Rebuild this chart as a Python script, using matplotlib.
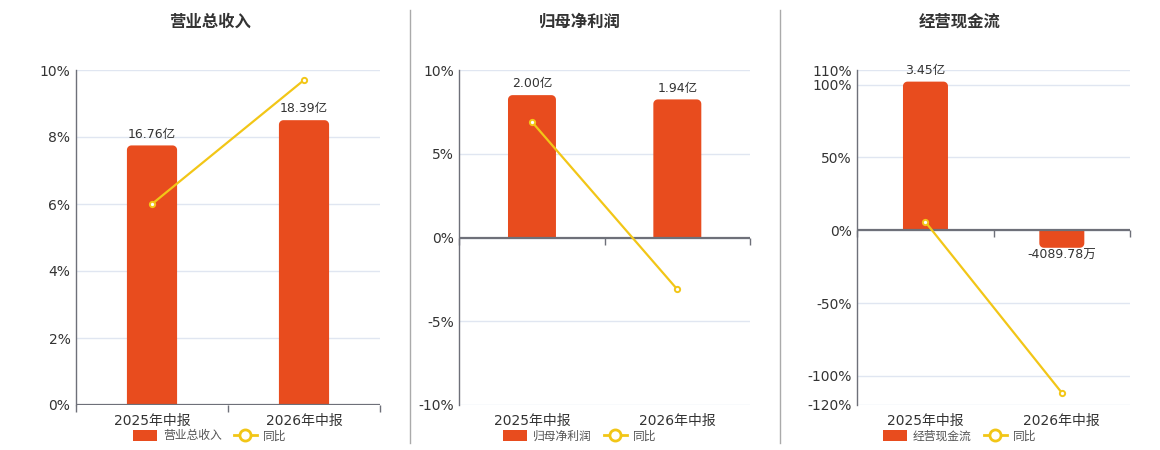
import matplotlib
matplotlib.use("Agg")
import numpy as np
import matplotlib.pyplot as plt
from matplotlib.patches import PathPatch, Patch
from matplotlib.path import Path
from matplotlib.lines import Line2D

plt.rcParams["font.family"] = ["DejaVu Sans", "Noto Sans CJK SC"]

# ---------------- data ----------------
categories = ["2025年中报", "2026年中报"]
titles = ["营业总收入", "归母净利润", "经营现金流"]
yoy_label = "同比"

revenue = [16.76, 18.39]          # 亿
revenue_yoy = [6.0, 9.7]          # %
profit = [2.00, 1.94]             # 亿
profit_yoy = [6.9, -3.1]          # %
cashflow = [3.45, -0.408978]      # 亿
cashflow_yoy = [5.6, -111.6]      # %

revenue_ticks = [0, 2, 4, 6, 8, 10]
profit_ticks = [-10, -5, 0, 5, 10]
cashflow_ticks = [-120, -100, -50, 0, 50, 100, 110]

# ---------------- style ----------------
W, H = 1160, 450
BAR = "#E84C1E"
LINE = "#F2C617"
AXIS = "#6E7079"
GRID = "#E0E6F1"
TXT = "#333333"


def fmt_amount(v):
    if abs(v) < 1:
        return f"{v * 10000:.2f}万"
    return f"{v:.2f}亿"


panels = [
    dict(title=titles[0], bars=revenue, yoy=revenue_yoy, ticks=revenue_ticks,
         bar_lim=(0, 21.63), left=76, right=380, cx=210),
    dict(title=titles[1], bars=profit, yoy=profit_yoy, ticks=profit_ticks,
         bar_lim=(-2.353, 2.353), left=459.3, right=750, cx=580),
    dict(title=titles[2], bars=cashflow, yoy=cashflow_yoy, ticks=cashflow_ticks,
         bar_lim=(-4.06, 3.72), left=857.3, right=1130, cx=960),
]

TOP, BOTTOM = 70, 405

fig = plt.figure(figsize=(W / 100, H / 100), dpi=100)


def rounded_bar_path(x, w, h, rx, ry, nseg=8):
    """Bar from 0 to h with the far-end corners rounded (elliptic in data units)."""
    s = 1 if h >= 0 else -1
    ry = min(ry, abs(h) / 2)
    rx = min(rx, w / 2)
    pts = [(x, 0)]
    pts.append((x, h - s * ry))
    cx_l, cy = x + rx, h - s * ry
    for t in np.linspace(np.pi, np.pi / 2, nseg):
        pts.append((cx_l + rx * np.cos(t), cy + s * ry * np.sin(t)))
    cx_r = x + w - rx
    for t in np.linspace(np.pi / 2, 0, nseg):
        pts.append((cx_r + rx * np.cos(t), cy + s * ry * np.sin(t)))
    pts.append((x + w, 0))
    pts.append((x, 0))
    codes = [Path.MOVETO] + [Path.LINETO] * (len(pts) - 2) + [Path.CLOSEPOLY]
    return Path(pts, codes)


def round_bars(axb, bars, w_px, h_px, radius_px=4.5):
    x0, x1 = axb.get_xlim()
    y0, y1 = axb.get_ylim()
    xpp = (x1 - x0) / w_px
    ypp = (y1 - y0) / h_px
    for rect in bars:
        x = rect.get_x()
        w, h = rect.get_width(), rect.get_height()
        path = rounded_bar_path(x, w, h, radius_px * xpp, radius_px * ypp)
        axb.add_patch(PathPatch(path, fc=BAR, ec="none", zorder=2))
        rect.set_visible(False)


n = len(categories)
xs = np.arange(n)

for p in panels:
    w_px = p["right"] - p["left"]
    h_px = BOTTOM - TOP
    rect = [p["left"] / W, (H - BOTTOM) / H, w_px / W, h_px / H]
    ax = fig.add_axes(rect)
    ticks = p["ticks"]
    lo, hi = min(ticks), max(ticks)
    ax.set_xlim(-0.5, n - 0.5)
    ax.set_ylim(lo, hi)
    ax.set_yticks(ticks)
    ax.set_yticklabels([f"{t}%" for t in ticks])
    ax.set_xticks(xs)
    ax.set_xticklabels(categories)
    ax.tick_params(axis="both", length=0, labelsize=10, colors=TXT)
    ax.tick_params(axis="y", pad=4)
    ax.tick_params(axis="x", pad=6.5)
    ax.grid(axis="y", color=GRID, lw=1)
    ax.grid(axis="x", visible=False)
    ax.set_axisbelow(True)
    for s in ["top", "right", "bottom"]:
        ax.spines[s].set_visible(False)
    ax.spines["left"].set_color(AXIS)
    ax.spines["left"].set_linewidth(1)
    ax.set_zorder(0)

    # bars on a hidden twin axis
    axb = ax.twinx()
    axb.set_ylim(*p["bar_lim"])
    axb.set_xlim(-0.5, n - 0.5)
    axb.axis("off")
    axb.set_zorder(1)
    bars = axb.bar(xs, p["bars"], width=0.33, color=BAR, zorder=2)
    round_bars(axb, bars, w_px, h_px)
    for xi, v in zip(xs, p["bars"]):
        if v >= 0:
            axb.annotate(fmt_amount(v), (xi, v), xytext=(0, 3.5),
                         textcoords="offset points", ha="center", va="bottom",
                         fontsize=9, color=TXT)
        else:
            axb.annotate(fmt_amount(v), (xi, v), xytext=(0, -0.5),
                         textcoords="offset points", ha="center", va="top",
                         fontsize=9, color=TXT)

    # line + zero axis on top layer
    axl = ax.twinx()
    axl.set_ylim(lo, hi)
    axl.set_xlim(-0.5, n - 0.5)
    axl.axis("off")
    axl.set_zorder(2)
    axl.axhline(0, color=AXIS, lw=1.6, zorder=1)
    bounds = np.arange(n + 1) - 0.5
    axl.plot(bounds, np.zeros_like(bounds), ls="none", marker=3, ms=5,
             mew=1, color=AXIS, clip_on=False, zorder=1)
    axl.plot(xs, p["yoy"], color=LINE, lw=1.6, marker="o", ms=3.8,
             mfc="white", mec=LINE, mew=1.4, zorder=3, clip_on=False)

    fig.text(p["cx"] / W, 1 - 22 / H, p["title"], ha="center", va="center",
             fontsize=11.8, fontweight="bold", color=TXT)

    handles = [
        Patch(fc=BAR, ec="none", label=p["title"]),
        Line2D([], [], color=LINE, lw=2, marker="o", ms=8, mfc="white",
               mec=LINE, mew=2, label=yoy_label),
    ]
    fig.legend(handles=handles, loc="center", bbox_to_anchor=(p["cx"] / W, 14 / H),
               ncol=2, frameon=False, fontsize=8.5, handlelength=2.0,
               handleheight=1.1, handletextpad=0.5, columnspacing=1.0,
               labelcolor="#555555", borderpad=0)

for xd in (410, 780):
    fig.add_artist(Line2D([xd / W, xd / W], [1 - 10 / H, 1 - 443 / H],
                          color="#AAAAAA", lw=1))

fig.savefig("out.png", dpi=100)
